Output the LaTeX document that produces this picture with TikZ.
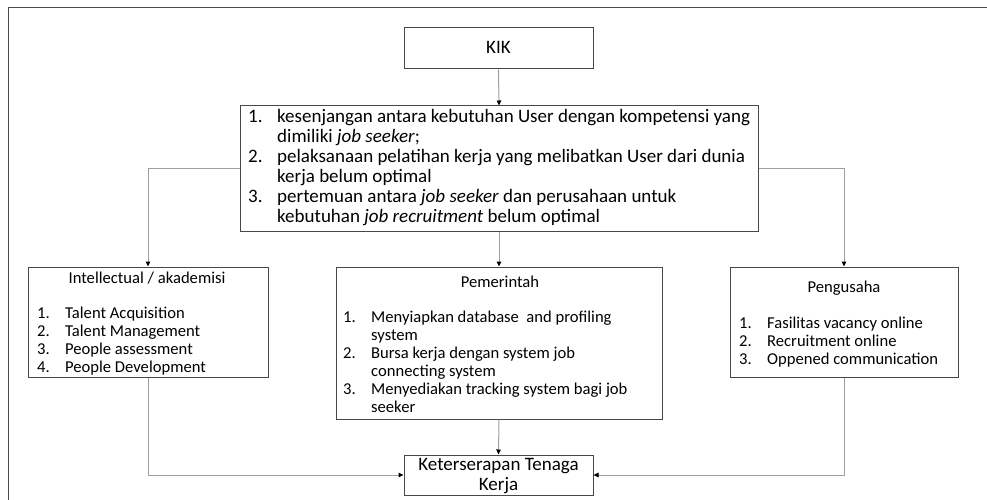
\documentclass[tikz,border=0pt]{standalone}
\usepackage{fontspec}
\setmainfont{Carlito}
\usetikzlibrary{arrows.meta}
\newcommand{\bigfont}{\fontsize{19}{20}\selectfont}
\newcommand{\smallfont}{\fontsize{16.6}{18}\selectfont}
\begin{document}
\begin{tikzpicture}[x=1pt,y=-1pt,
  box/.style={draw=black!72, line width=1pt, inner sep=0pt},
  conn/.style={draw=black!38, line width=1pt, -{Triangle[length=5pt,width=4.5pt,black]}},
  txt/.style={inner sep=0pt, anchor=base west, align=left},
  ctr/.style={inner sep=0pt, anchor=base, align=center},
  frame/.style={draw=black!70, line width=1pt}
]
\useasboundingbox (0,0) rectangle (987,500);
\draw[frame] (8,505) -- (8,8) -- (992,8);

% boxes
\node[box, minimum width=189pt, minimum height=41pt] (kik) at (498.5,48.5) {};
\node[ctr, font=\bigfont] (kikt) at (498.5,54) {KIK};

\node[box, minimum width=518pt, minimum height=125pt] (prob) at (499,168.5) {};
\node[txt, font=\bigfont] (probt) at (248,122.5) {%
\begin{tabular}[t]{@{}p{29pt}@{}l@{}}
1. & kesenjangan antara kebutuhan User dengan kompetensi yang\\
   & dimiliki \textit{job seeker};\\
2. & pelaksanaan pelatihan kerja yang melibatkan User dari dunia\\
   & kerja belum optimal\\
3. & pertemuan antara \textit{job seeker} dan perusahaan untuk\\
   & kebutuhan \textit{job recruitment} belum optimal
\end{tabular}};

\node[box, minimum width=240pt, minimum height=110pt] (intel) at (148,322) {};
\node[ctr, font=\smallfont] (intelh) at (147,283) {Intellectual / akademisi};
\node[txt, font=\smallfont] (intelt) at (37,318) {%
\begin{tabular}[t]{@{}p{28pt}@{}l@{}}
1. & Talent Acquisition\\
2. & Talent Management\\
3. & People assessment\\
4. & People Development
\end{tabular}};

\node[box, minimum width=326pt, minimum height=152pt] (pem) at (499,343) {};
\node[ctr, font=\smallfont] (pemh) at (500,287) {Pemerintah};
\node[txt, font=\smallfont] (pemt) at (343,322) {%
\begin{tabular}[t]{@{}p{28pt}@{}l@{}}
1. & Menyiapkan database\ \ and profiling\\
   & system\\
2. & Bursa kerja dengan system job\\
   & connecting system\\
3. & Menyediakan tracking system bagi job\\
   & seeker
\end{tabular}};

\node[box, minimum width=228pt, minimum height=110pt] (peng) at (844,322) {};
\node[ctr, font=\smallfont] (pengh) at (844,292) {Pengusaha};
\node[txt, font=\smallfont] (pengt) at (739,328) {%
\begin{tabular}[t]{@{}p{28pt}@{}l@{}}
1. & Fasilitas vacancy online\\
2. & Recruitment online\\
3. & Oppened communication
\end{tabular}};

\node[box, minimum width=189pt, minimum height=40pt] (ket) at (498.5,475) {};
\node[ctr, font=\bigfont] (kett) at (498.5,490.5) {Keterserapan Tenaga\\Kerja};

% connectors
\draw[conn] (kik.south) -- (prob.north);
\draw[conn] (prob.west) -| (intel.north);
\draw[conn] (prob.east) -| (peng.north);
\draw[conn] (prob.south) -- (pem.north);
\draw[conn] (intel.south) |- (ket.west);
\draw[conn] (peng.south) |- (ket.east);
\draw[conn] (pem.south) -- (ket.north);
\end{tikzpicture}
\end{document}
